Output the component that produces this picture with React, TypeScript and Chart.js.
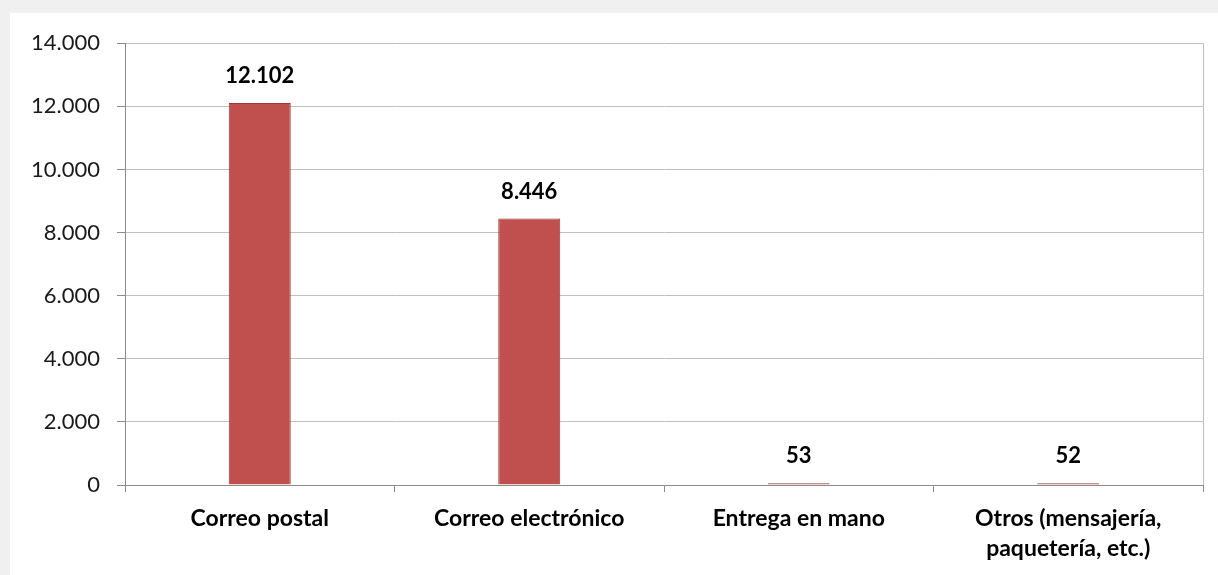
import React, { useEffect, useRef } from "react";
import { Chart, registerables } from "chart.js";

Chart.register(...registerables);

const categories: (string | string[])[] = [
  "Correo postal",
  "Correo electrónico",
  "Entrega en mano",
  ["Otros (mensajería,", "paquetería, etc.)"],
];
const values: number[] = [12102, 8446, 53, 52];
const yTicks: number[] = [0, 2000, 4000, 6000, 8000, 10000, 12000, 14000];

const FONT = "Lato, 'Open Sans', sans-serif";

function fmt(v: number): string {
  const s = Math.round(v).toString();
  return s.replace(/\B(?=(\d{3})+(?!\d))/g, ".");
}

const dataLabelPlugin = {
  id: "dataLabels",
  afterDatasetsDraw(chart: any) {
    const ctx = chart.ctx;
    const meta = chart.getDatasetMeta(0);
    ctx.save();
    ctx.font = `bold 22px ${FONT}`;
    ctx.fillStyle = "#000";
    ctx.textAlign = "center";
    ctx.textBaseline = "middle";
    meta.data.forEach((bar: any, i: number) => {
      ctx.fillText(fmt(values[i]), bar.x, bar.y - 27);
    });
    ctx.restore();
  },
};

const rightBorderPlugin = {
  id: "rightBorder",
  afterDraw(chart: any) {
    const { ctx, chartArea } = chart;
    ctx.save();
    ctx.strokeStyle = "#bfbfbf";
    ctx.lineWidth = 1;
    ctx.beginPath();
    ctx.moveTo(chartArea.right + 0.5, chartArea.top);
    ctx.lineTo(chartArea.right + 0.5, chartArea.bottom);
    ctx.stroke();
    ctx.restore();
  },
};

export default function App() {
  const ref = useRef<HTMLCanvasElement>(null);

  useEffect(() => {
    document.body.style.margin = "0";
    const chart = new Chart(ref.current!, {
      type: "bar",
      data: {
        labels: categories,
        datasets: [
          {
            data: values,
            backgroundColor: "#c0504d",
            borderColor: "#983a37",
            borderWidth: 1,
            categoryPercentage: 1,
            barPercentage: 0.23,
          },
        ],
      },
      options: {
        animation: false,
        responsive: false,
        maintainAspectRatio: false,
        layout: { padding: { left: 0, top: 30, right: 15, bottom: 0 } },
        plugins: {
          legend: { display: false },
          tooltip: { enabled: false },
        },
        scales: {
          x: {
            grid: {
              offset: true,
              drawOnChartArea: false,
              drawTicks: true,
              tickLength: 7,
              color: "#8c8c8c",
            },
            border: { color: "#8c8c8c" },
            ticks: {
              color: "#000",
              font: { family: FONT, size: 23, weight: "bold", lineHeight: 1.3 },
              padding: 12,
              maxRotation: 0,
              autoSkip: false,
            },
            afterFit(scale: any) {
              scale.height = 90;
            },
          },
          y: {
            min: 0,
            max: 14000,
            afterBuildTicks(scale: any) {
              scale.ticks = yTicks.map((v) => ({ value: v }));
            },
            grid: {
              color: "#c0c0c0",
              tickLength: 8,
              tickColor: "#8c8c8c",
            },
            border: { color: "#8c8c8c" },
            ticks: {
              color: "#1a1a1a",
              font: { family: FONT, size: 22 },
              padding: 17,
              callback: (v: any) => fmt(Number(v)),
            },
            afterFit(scale: any) {
              scale.width = 115;
            },
          },
        },
      },
      plugins: [dataLabelPlugin, rightBorderPlugin],
    });
    return () => chart.destroy();
  }, []);

  return (
    <div
      style={{
        position: "absolute",
        left: 0,
        top: 0,
        width: 1218,
        height: 575,
        background: "#f0f0f0",
        overflow: "hidden",
      }}
    >
      <div
        style={{
          position: "absolute",
          left: 10,
          top: 13,
          width: 1208,
          height: 562,
          background: "#ffffff",
        }}
      >
        <canvas ref={ref} width={1208} height={562} style={{ width: 1208, height: 562, display: "block" }} />
      </div>
    </div>
  );
}
